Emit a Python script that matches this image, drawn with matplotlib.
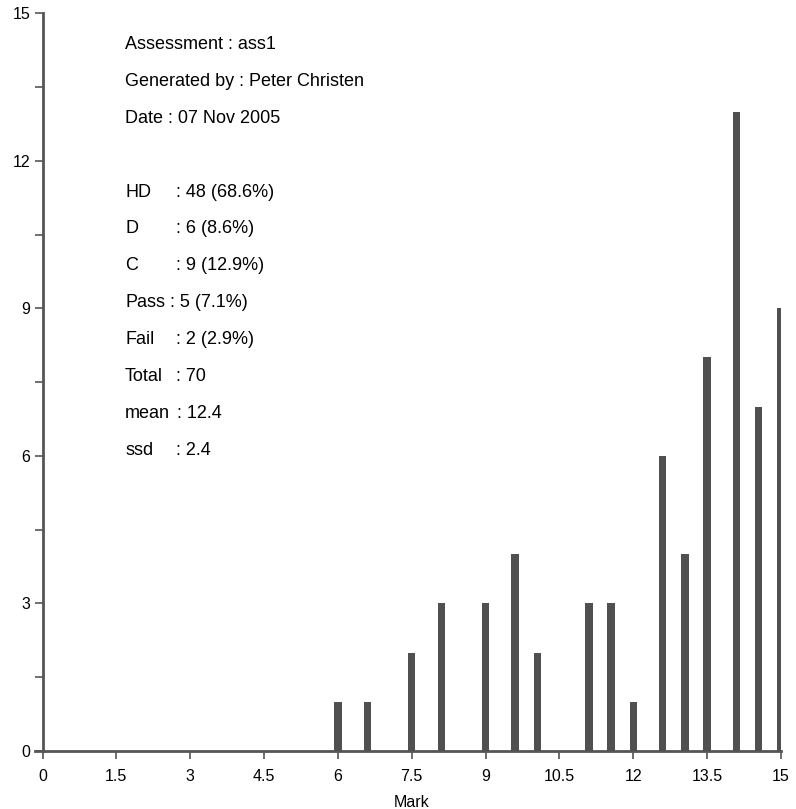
import numpy as np
import matplotlib.pyplot as plt

plt.rcParams['font.family'] = ['Liberation Sans', 'DejaVu Sans']

marks = [6, 6.6, 7.5, 8.1, 9, 9.6, 10.05, 11.1, 11.55, 12, 12.6, 13.05, 13.5, 14.1, 14.55, 15]
counts = [1, 1, 2, 3, 3, 4, 2, 3, 3, 1, 6, 4, 8, 13, 7, 9]

info_lines = ["Assessment : ass1", "Generated by : Peter Christen", "Date : 07 Nov 2005"]
grade_names = ["HD", "D", "C", "Pass", "Fail", "Total", "mean", "ssd"]
grade_values = [": 48 (68.6%)", ": 6 (8.6%)", ": 9 (12.9%)", ": 5 (7.1%)",
                ": 2 (2.9%)", ": 70", ": 12.4", ": 2.4"]

xticks = [0, 1.5, 3, 4.5, 6, 7.5, 9, 10.5, 12, 13.5, 15]
xticklabels = ["0", "1.5", "3", "4.5", "6", "7.5", "9", "10.5", "12", "13.5", "15"]

fig = plt.figure(figsize=(7.96, 8.09), dpi=100)
ax = fig.add_axes([0.0534, 0.0717, 0.9277, 0.912])

axis_col = '#555555'
ax.bar(marks, counts, width=0.15, color='#505050', zorder=3)

ax.set_xlim(0, 15)
ax.set_ylim(0, 15)
ax.set_xticks(xticks)
ax.set_xticklabels(xticklabels)
ax.set_yticks([0, 3, 6, 9, 12, 15])
ax.set_yticks([1.5, 4.5, 7.5, 10.5, 13.5], minor=True)
ax.tick_params(axis='both', which='both', direction='out', color=axis_col,
               width=1.2, labelsize=11.5, labelcolor='black')
ax.tick_params(axis='both', which='major', length=6, pad=3)
ax.tick_params(axis='y', which='minor', length=6)
ax.tick_params(axis='x', which='major', pad=7)

for s in ['top', 'right']:
    ax.spines[s].set_visible(False)
for s in ['left', 'bottom']:
    ax.spines[s].set_color(axis_col)
    ax.spines[s].set_linewidth(2)
ax.spines['bottom'].set_bounds(-0.15, 15)
ax.spines['bottom'].set_clip_on(False)

ax.set_xlabel("Mark", fontsize=11.5, labelpad=8)

# text block placed in pixels measured from top-left
def to_fig(px, py):
    return fig.transFigure.inverted().transform((px, 809 - py))

ys = [44, 81, 118]
for line, y in zip(info_lines, ys):
    fx, fy = to_fig(125, y)
    fig.text(fx, fy, line, fontsize=13, va='center', ha='left')

colon_x = [176, 176, 176, 170, 176, 176, 177, 176]
for i, (n, v) in enumerate(zip(grade_names, grade_values)):
    y = 192 + i * 36.9
    fx, fy = to_fig(125, y)
    fig.text(fx, fy, n, fontsize=13, va='center', ha='left')
    fx2, _ = to_fig(colon_x[i], y)
    fig.text(fx2, fy, v, fontsize=13, va='center', ha='left')

fig.savefig('out.png', dpi=100)
